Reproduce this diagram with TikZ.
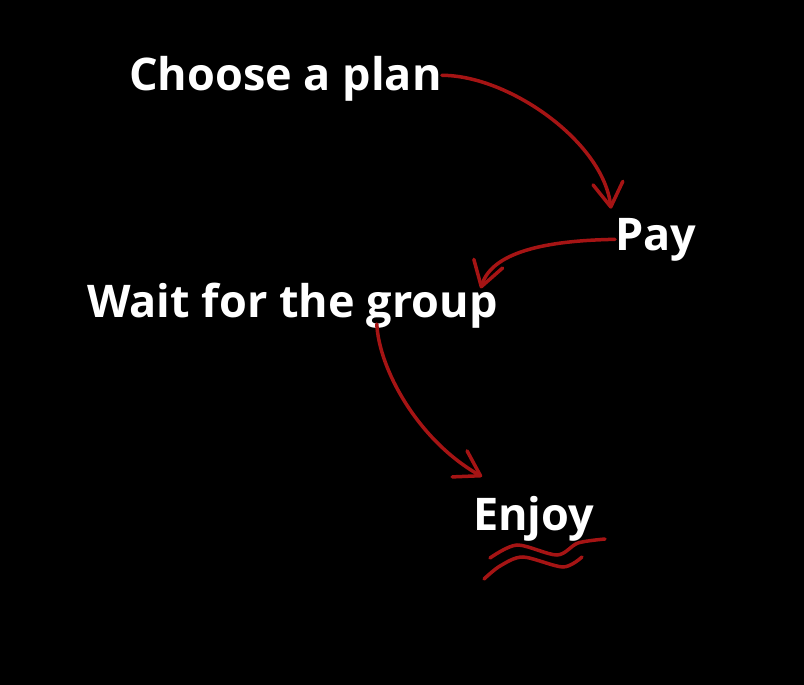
\documentclass[tikz,border=0pt]{standalone}
\usepackage{fontspec}
\setmainfont{Open Sans}
\definecolor{mInk}{HTML}{A51414}
\definecolor{mPaper}{HTML}{000000}
\usepackage{tikz}
\usetikzlibrary{arrows.meta}

\begin{document}
\begin{tikzpicture}[x=1pt, y=-1pt,
  lbl/.style={text=white, font=\bfseries\fontsize{45}{50}\selectfont, inner sep=0pt, anchor=base west},
  flow/.style={mInk, line width=3.5pt, line cap=round, -{Straight Barb[length=24pt, width=30pt, round]}},
  wave/.style={mInk, line width=3.5pt, line cap=round}]
\fill[mPaper] (0,0) rectangle (804,685);
\useasboundingbox (0,0) rectangle (804,685);
\node[lbl] (choose) at (129,91) {Choose a plan};
\node[lbl] (pay) at (615,250) {Pay};
\node[lbl] (wait) at (87,317) {Wait for the group};
\node[lbl] (enjoy) at (473,530) {Enjoy};
\draw[flow] ([yshift=4pt]choose.east) .. controls +(67,0) and +(-8,-67) .. ([xshift=-4pt,yshift=9pt]pay.north west);
\draw[flow] (pay.west) .. controls +(-57,1) and +(12,-40) .. ([xshift=-17pt,yshift=-6pt]wait.north east);
\draw[flow] ([xshift=-121pt,yshift=4pt]wait.south east) .. controls +(2,44) and +(-65,-37) .. ([xshift=9pt,yshift=19pt]enjoy.north west);
% underline of the last step
\draw[wave] plot[smooth] coordinates {(490,558) (517,545) (557,555) (578,543) (605,539)};
\draw[wave] plot[smooth] coordinates {(484,579) (500,566) (523,557) (563,567) (582,557)};
\end{tikzpicture}
\end{document}
